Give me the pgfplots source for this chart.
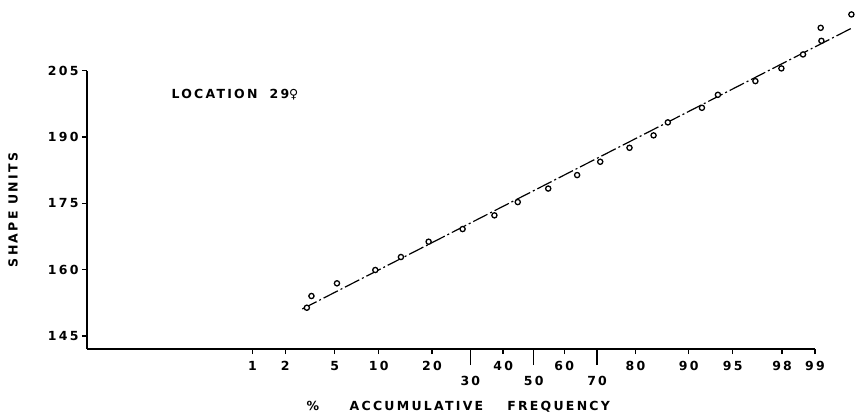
\documentclass[border=0pt]{standalone}
\usepackage{pgfplots}
\pgfplotsset{compat=1.18}
\usepackage{fontspec}
\setmainfont{DejaVu Sans}
\newfontfamily\lab[LetterSpace=18]{DejaVu Sans Bold}
\newfontfamily\sym{DejaVu Sans Bold}
\newcommand{\labfont}{\lab\fontsize{12.5bp}{14bp}\selectfont}

% x values are probit (normal quantile) positions of the cumulative frequency
\pgfplotstableread{
z       y
-1.876  151.40
-1.838  154.05
-1.627  156.92
-1.310  159.93
-1.098  162.87
-0.869  166.33
-0.588  169.20
-0.325  172.30
-0.132  175.30
 0.120  178.36
 0.359  181.41
 0.550  184.42
 0.792  187.58
 0.991  190.39
 1.109  193.33
 1.391  196.63
 1.523  199.57
 1.833  202.67
 2.048  205.54
 2.227  208.70
 2.379  211.78
 2.373  214.72
 2.627  217.75
}\datatable

\begin{document}
\begin{tikzpicture}
\path[use as bounding box] (-87bp,-71bp) rectangle (769bp,349bp);
\begin{axis}[
  at={(0,0)}, anchor=south west,
  scale only axis,
  width=728bp, height=278.2bp,
  xmin=-3.694, xmax=2.326,
  ymin=142.06, ymax=205,
  axis lines*=left,
  clip=false,
  axis line style={line width=1.4bp},
  tick style={line width=1.3bp, black},
  tick align=outside,
  major tick length=5bp,
  xtick={-2.326,-2.054,-1.645,-1.282,-0.842,-0.253,0.253,0.842,1.282,1.645,2.054,2.326},
  xticklabels={1,2,5,10,20,40,60,80,90,95,98,99},
  extra x ticks={-0.524,0,0.524},
  extra x tick labels={30,50,70},
  x tick label style={yshift=-4bp},
  extra x tick style={major tick length=16bp, x tick label style={yshift=-4bp}},
  ytick={145,160,175,190,205},
  yticklabels={145,160,175,190,205},
  /pgf/number format/assume math mode=true,
  tick label style={font=\labfont},
  xlabel={\% \hspace{24bp}ACCUMULATIVE\hspace{24bp}FREQUENCY},
  xlabel style={font=\labfont, at={(axis description cs:0.51,0)}, anchor=center, yshift=-58bp},
  ylabel={SHAPE UNITS},
  ylabel style={font=\labfont, at={(axis description cs:-0.1016,0.5)}, anchor=center, rotate=0},
]
\addplot[line width=1.2bp, black, dash pattern=on 16bp off 3bp on 2bp off 3bp]
  coordinates {(-1.914,151.11) (2.629,214.65)};
\addplot[only marks, mark=*, mark size=2.6bp,
  mark options={fill=white, draw=black, line width=1.3bp}]
  table[x=z, y=y] {\datatable};
\node[anchor=west, font=\labfont] at (axis cs:-3.024,199.7)
  {LOCATION\hspace{12bp}29{\sym ♀}};
\end{axis}
\end{tikzpicture}
\end{document}
